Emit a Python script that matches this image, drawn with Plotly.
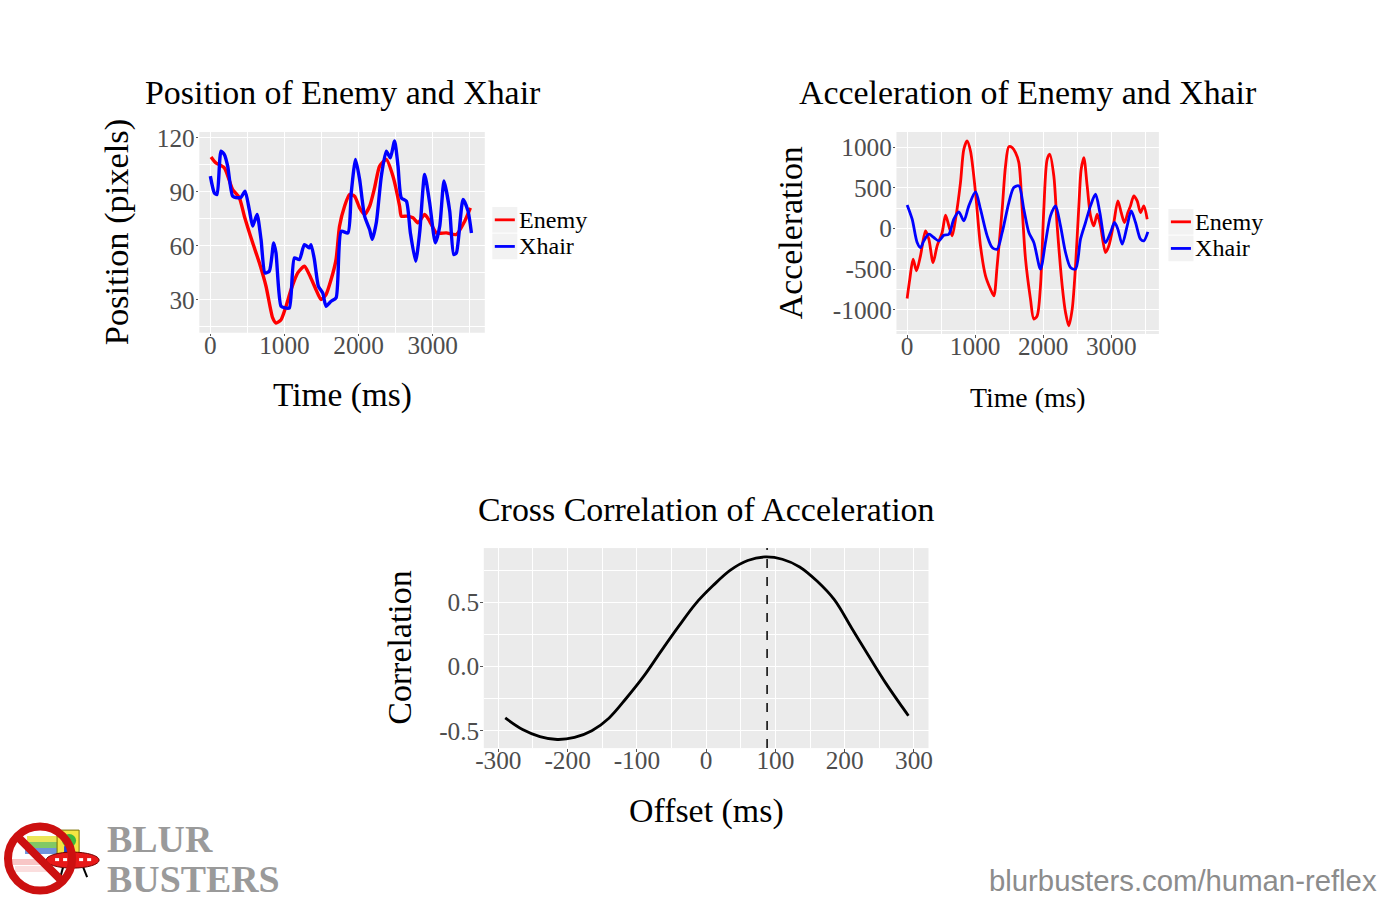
import plotly.graph_objects as go

# figure size and the measured mapping from figure pixels to the photographed page
W, H = 1386, 902
SX, OX = 0.989, 10.0
SY, OY = 0.991, 7.0
FS = 1 / SX  # font scale compensation

# ---------------- data ----------------
pos_enemy_t = [9, 76, 189, 301, 391, 459, 571, 661, 751, 841, 886, 954, 1021, 1089, 1179, 1269,
               1336, 1426, 1494, 1561, 1629, 1696, 1743, 1811, 1878, 1946, 2014, 2081, 2149, 2216,
               2284, 2374, 2464, 2554, 2577, 2645, 2734, 2802, 2892, 2959, 3050, 3185, 3320, 3432, 3509]
pos_enemy_v = [109.4, 106, 103.3, 91.3, 86.7, 76.5, 61.7, 50.6, 37.6, 20, 17.2, 19, 26.5, 35.7, 45, 48.7,
               44, 35.7, 30.2, 33, 41.3, 52.4, 70.9, 82, 88.5, 87.6, 81.1, 77.4, 82, 92.2,
               104.3, 108, 98.7, 82, 76.5, 76.5, 75.6, 72.8, 77.4, 73.7, 67.2, 67.2, 66.3, 73.7, 81.1]

pos_xhair_t = [0, 54, 90, 144, 189, 234, 301, 369, 414, 468, 526, 571, 630, 684, 738, 796, 855, 886,
               954, 1008, 1066, 1134, 1201, 1269, 1336, 1359, 1404, 1458, 1516, 1561, 1629, 1696,
               1766, 1856, 1901, 1959, 2014, 2081, 2149, 2185, 2239, 2307, 2374, 2428, 2486, 2532,
               2577, 2645, 2699, 2770, 2824, 2892, 2959, 3036, 3095, 3153, 3230, 3284, 3320, 3410,
               3477, 3523]
pos_xhair_v = [98.7, 89.4, 88.5, 112.6, 110.7, 104.3, 87.6, 86.7, 87, 90.4, 80, 71, 77.4, 63.5, 45, 46,
               61.7, 56, 26.5, 25.6, 25.6, 53.3, 52.4, 60.7, 58.9, 60.7, 52.4, 37.6, 33.9, 26.5, 29.3,
               31.1, 68.1, 67.2, 89.4, 108, 96.9, 76.5, 69.1, 63.6, 72.8, 98.7, 112.6, 108.9, 118.2, 104.3,
               86.7, 84.8, 67.2, 51.5, 67.2, 99.7, 83.9, 61.7, 70.9, 96, 79.3, 55.2, 56.1, 85.8,
               79.3, 67.2]

acc_enemy_t = [0, 39, 88, 137, 196, 270, 319, 382, 441, 515, 564, 613, 662, 711, 784, 833, 882, 931,
               1005, 1078, 1152, 1225, 1274, 1323, 1397, 1446, 1495, 1544, 1593, 1642, 1691, 1740,
               1813, 1862, 1911, 1960, 2009, 2058, 2097, 2156, 2205, 2279, 2328, 2376, 2426, 2475,
               2524, 2558, 2597, 2646, 2695, 2744, 2793, 2842, 2916, 2965, 3038, 3097, 3146, 3195,
               3244, 3283, 3332, 3381, 3430, 3479, 3528]
acc_enemy_v = [-861, -623, -377, -520, -336, -29, -131, -418, -213, -49, 164, 33, -90, 115, 566, 975,
               1078, 955, 443, -213, -582, -746, -828, -459, 238, 770, 1008, 996, 934, 811, 238, -377,
               -869, -1115, -1074, -705, 238, 852, 914, 647, 33, -705, -1033, -1197, -992, -459,
               279, 729, 873, 524, 156, 33, 176, 33, -295, -213, 74, 340, 197, 74,
               197, 279, 402, 340, 197, 279, 115]

acc_xhair_t = [0, 74, 147, 196, 245, 319, 392, 466, 539, 613, 686, 760, 833, 907, 1005, 1078, 1176,
               1250, 1323, 1397, 1495, 1568, 1642, 1715, 1789, 1862, 1960, 2033, 2107, 2181, 2254,
               2328, 2401, 2475, 2548, 2622, 2695, 2769, 2832, 2916, 2989, 3048, 3097, 3161, 3234,
               3293, 3357, 3430, 3479, 3538]
acc_xhair_v = [291, 115, -172, -234, -152, -70, -111, -152, -82, -70, 115, 205, 94, 279, 451, 238, -90,
               -234, -254, -49, 320, 504, 525, 238, -49, -172, -500, -172, 156, 279, 33,
               -295, -480, -500, -131, 74, 279, 422, 197, -172, -49, 74, -8, -193, 33,
               217, 74, -131, -152, -41]

corr_offset = [-290, -265, -240, -215, -190, -165, -140, -115, -90, -65, -40, -15, 10, 35, 60, 85,
               110, 135, 160, 185, 210, 235, 260, 285, 292]
corr_value = [-0.40, -0.49, -0.545, -0.568, -0.552, -0.50, -0.40, -0.245, -0.075, 0.12, 0.31, 0.49,
              0.63, 0.75, 0.825, 0.853, 0.835, 0.775, 0.665, 0.52, 0.30, 0.08, -0.135, -0.33, -0.383]
peak_offset = 88

series_names = ["Enemy", "Xhair"]
series_colors = ["#FF0000", "#0000FF"]

pos_x_ticks = [0, 1000, 2000, 3000]
pos_y_ticks = [30, 60, 90, 120]
acc_x_ticks = [0, 1000, 2000, 3000]
acc_y_ticks = [-1000, -500, 0, 500, 1000]
acc_y_labels = ["-1000", "-500", "0", "500", "1000"]
corr_x_ticks = [-300, -200, -100, 0, 100, 200, 300]
corr_x_labels = ["-300", "-200", "-100", "0", "100", "200", "300"]
corr_y_ticks = [-0.5, 0.0, 0.5]
corr_y_labels = ["-0.5", "0.0", "0.5"]

# ---------------- helpers (target page pixels -> paper) ----------------
def px(x):
    return ((x - OX) / SX) / W

def py(y):
    return 1 - ((y - OY) / SY) / H

def fs(s):
    return round(s * FS, 1)

SERIF = "Liberation Serif"
TICK_FONT = dict(family=SERIF, size=fs(25), color="#4D4D4D")
BG = "#EBEBEB"

fig = go.Figure()

fig.add_trace(go.Scatter(x=pos_enemy_t, y=pos_enemy_v, name=series_names[0], mode="lines",
                         line=dict(color=series_colors[0], width=3.4, shape="spline", smoothing=0.6),
                         xaxis="x", yaxis="y", showlegend=False))
fig.add_trace(go.Scatter(x=pos_xhair_t, y=pos_xhair_v, name=series_names[1], mode="lines",
                         line=dict(color=series_colors[1], width=3.4, shape="spline", smoothing=0.6),
                         xaxis="x", yaxis="y", showlegend=False))
fig.add_trace(go.Scatter(x=acc_enemy_t, y=acc_enemy_v, name=series_names[0], mode="lines",
                         line=dict(color=series_colors[0], width=2.8, shape="spline", smoothing=0.8),
                         xaxis="x2", yaxis="y2", showlegend=False))
fig.add_trace(go.Scatter(x=acc_xhair_t, y=acc_xhair_v, name=series_names[1], mode="lines",
                         line=dict(color=series_colors[1], width=2.8, shape="spline", smoothing=0.8),
                         xaxis="x2", yaxis="y2", showlegend=False))
fig.add_trace(go.Scatter(x=corr_offset, y=corr_value, mode="lines", showlegend=False,
                         line=dict(color="black", width=2.8, shape="spline", smoothing=1.0),
                         xaxis="x3", yaxis="y3"))


def axis(domain, rng, vals, labels, minor_dtick, anchor, standoff):
    return dict(domain=domain, range=rng, tickmode="array", tickvals=vals,
                ticktext=[str(v) for v in labels], anchor=anchor,
                showgrid=True, gridcolor="white", gridwidth=1.1, zeroline=False,
                showline=False, ticks="outside", ticklen=2.5, tickwidth=1, tickcolor="#555555",
                tickfont=TICK_FONT, ticklabelstandoff=standoff,
                minor=dict(dtick=minor_dtick, tick0=0, showgrid=True, gridcolor="white",
                           gridwidth=0.5, ticklen=0))

XS, YS = -13, -4
fig.update_layout(
    width=W, height=H,
    margin=dict(l=0, r=0, t=0, b=0),
    paper_bgcolor="white",
    plot_bgcolor=BG,
    showlegend=False,
    xaxis=axis([px(200), px(485)], [-149, 3703], pos_x_ticks, pos_x_ticks, 500, "y", XS),
    yaxis=axis([py(331.7), py(131)], [11.8, 123.2], pos_y_ticks, pos_y_ticks, 15, "x", YS),
    xaxis2=axis([px(896), px(1158)], [-157, 3700], acc_x_ticks, acc_x_ticks, 500, "y2", XS),
    yaxis2=axis([py(333), py(131)], [-1299, 1188], acc_y_ticks, acc_y_labels, 250, "x2", YS),
    xaxis3=axis([px(484), px(928)], [-321, 321], corr_x_ticks, corr_x_labels, 50, "y3", XS),
    yaxis3=axis([py(747), py(547)], [-0.635, 0.922], corr_y_ticks, corr_y_labels, 0.25, "x3", YS),
)

shapes = []
ann = []

def text(x, y, s, size, color="black", family=SERIF, angle=0, xanchor="center", bold=False):
    if bold:
        s = "<b>" + s + "</b>"
    ann.append(dict(x=px(x), y=py(y), xref="paper", yref="paper", text=s, showarrow=False,
                    font=dict(family=family, size=fs(size), color=color), textangle=angle,
                    xanchor=xanchor, yanchor="middle", borderpad=0))

def prect(x0, y0, x1, y1, fill, line_color=None, lw=0, opacity=1.0, kind="rect"):
    shapes.append(dict(type=kind, xref="paper", yref="paper", x0=px(x0), x1=px(x1), y0=py(y1), y1=py(y0),
                       fillcolor=fill, opacity=opacity,
                       line=dict(color=line_color or "rgba(0,0,0,0)", width=lw)))

def pline(x0, y0, x1, y1, color, lw):
    shapes.append(dict(type="line", xref="paper", yref="paper", x0=px(x0), x1=px(x1), y0=py(y0), y1=py(y1),
                       line=dict(color=color, width=lw)))

# dashed peak line
shapes.append(dict(type="line", xref="x3", yref="paper", x0=peak_offset, x1=peak_offset,
                   y0=py(747), y1=py(547), line=dict(color="black", width=1.5, dash="dash")))

# legends (ggplot style keys)
def legend(box_x, box_y, box_h):
    for i, (name, col) in enumerate(zip(series_names, series_colors)):
        y0 = box_y + i * box_h
        prect(box_x, y0 + 0.5, box_x + 25, y0 + box_h - 0.5, "#F2F2F2")
        pline(box_x + 2.5, y0 + box_h / 2, box_x + 22.5, y0 + box_h / 2, col, 2.8)
        text(box_x + 26, y0 + box_h / 2, name, 23.8, xanchor="left")

legend(492.5, 205.5, 26.6)
legend(1167.5, 207.5, 26.6)

# logo (simplified "Blur Busters" emblem)
prect(13, 858, 55, 864, "#F08080", opacity=0.45)
prect(16, 865, 52, 871, "#F4A0A0", opacity=0.35)
prect(28, 835, 60, 841, "#E8E23A", opacity=0.85)
prect(27, 841, 60, 847, "#6CC04A", opacity=0.85)
prect(26, 847, 60, 853, "#3F6FD0", opacity=0.75)
prect(58, 829, 80, 853, "#F5E642", line_color="#7A7000", lw=1)
prect(63, 833, 77, 846, "#3DB83D", kind="circle")
prect(65, 845, 75, 853, "#1E3FD0")
pline(64, 866, 61, 877, "black", 2)
pline(84, 866, 88, 876, "black", 2)
prect(47, 851, 100, 867, "#E81818", line_color="#700000", lw=1, kind="circle")
for wx in [56, 64, 72, 80, 88]:
    prect(wx, 857, wx + 4, 860, "white")
prect(9, 825.5, 73, 889.5, "rgba(0,0,0,0)", line_color="#CC1010", lw=8, kind="circle")
pline(19, 836, 64, 881, "#CC1010", 8)

# titles
text(342.5, 91, "Position of Enemy and Xhair", 33.5)
text(1027, 91, "Acceleration of Enemy and Xhair", 33.5)
text(706, 508, "Cross Correlation of Acceleration", 33.5)
# axis titles
text(342.5, 394, "Time (ms)", 33)
text(1027, 396, "Time (ms)", 27.5)
text(706, 810, "Offset (ms)", 33.5)
text(117, 231, "Position (pixels)", 34, angle=-90)
text(790, 232, "Acceleration", 33.5, angle=-90)
text(399, 647, "Correlation", 33.5, angle=-90)
# branding
text(107, 838, "BLUR", 37.5, color="#9A9A9A", xanchor="left", bold=True)
text(107, 878, "BUSTERS", 37.5, color="#9A9A9A", xanchor="left", bold=True)
text(1377, 879, "blurbusters.com/human-reflex", 29, color="#8C8C8C", family="Liberation Sans",
     xanchor="right")

fig.update_layout(shapes=shapes, annotations=ann)

fig.write_html("out.html")
